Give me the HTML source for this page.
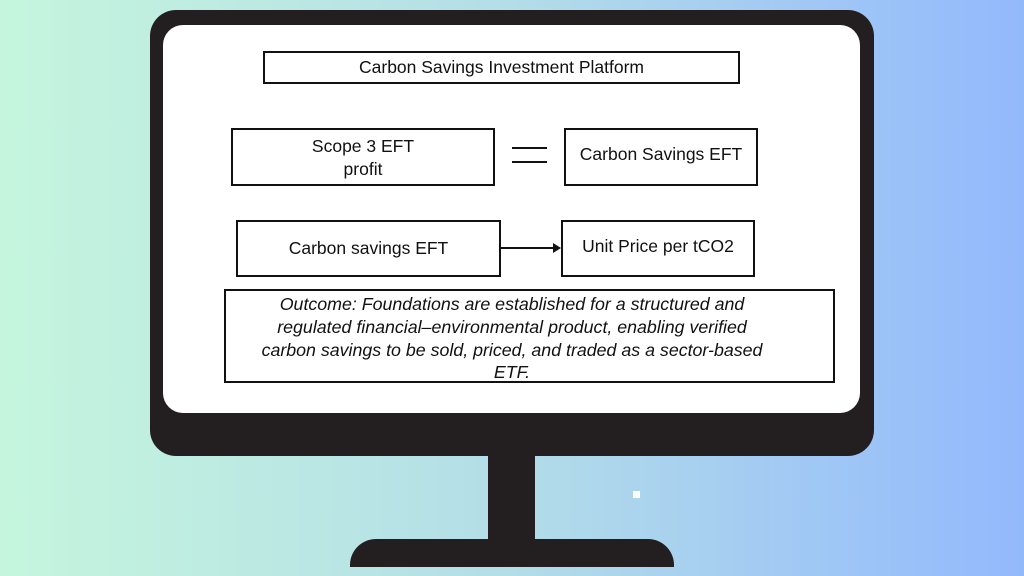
<!DOCTYPE html>
<html><head><meta charset="utf-8"><style>
*{margin:0;padding:0;box-sizing:border-box}
body{width:1024px;height:576px;overflow:hidden;position:relative;background:linear-gradient(90deg,#c5f6dd 0%,#b3dde8 50%,#93b9fd 100%);font-family:"Liberation Sans",sans-serif;color:#111}
.a{position:absolute}
.box{position:absolute;border:2px solid #111;background:#fff}
.t{position:absolute;font-size:17.5px;text-align:center;white-space:nowrap}
.o{position:absolute;left:212px;width:600px;text-align:center;font-style:italic;font-size:17.8px;white-space:nowrap}
</style></head><body>
<div class="a" style="left:150px;top:10px;width:724px;height:446px;background:#231f20;border-radius:26px"></div>
<div class="a" style="left:163px;top:25px;width:697px;height:388px;background:#fff;border-radius:20px"></div>
<div class="a" style="left:488px;top:455px;width:47px;height:86px;background:#231f20"></div>
<div class="a" style="left:350px;top:539px;width:324px;height:28px;background:#231f20;border-radius:26px 26px 0 0"></div>
<div class="a" style="left:633px;top:491px;width:7px;height:7px;background:#fff"></div>

<div class="box" style="left:263px;top:51px;width:477px;height:33px"></div>
<div class="t" style="left:263px;top:57px;width:477px">Carbon Savings Investment Platform</div>

<div class="box" style="left:231px;top:128px;width:264px;height:58px"></div>
<div class="t" style="left:231px;top:135px;width:264px;line-height:23px">Scope 3 EFT<br>profit</div>
<div class="a" style="left:512px;top:147px;width:35px;height:2px;background:#111"></div>
<div class="a" style="left:512px;top:161px;width:35px;height:2px;background:#111"></div>
<div class="box" style="left:564px;top:128px;width:194px;height:58px"></div>
<div class="t" style="left:564px;top:144px;width:194px">Carbon Savings EFT</div>

<div class="box" style="left:236px;top:220px;width:265px;height:57px"></div>
<div class="t" style="left:236px;top:238px;width:265px">Carbon savings EFT</div>
<div class="a" style="left:500px;top:247px;width:56px;height:2px;background:#111"></div>
<div class="a" style="left:553px;top:243px;width:0;height:0;border-left:8px solid #111;border-top:5px solid transparent;border-bottom:5px solid transparent"></div>
<div class="box" style="left:561px;top:220px;width:194px;height:57px"></div>
<div class="t" style="left:561px;top:236px;width:194px">Unit Price per tCO2</div>

<div class="box" style="left:224px;top:289px;width:611px;height:94px"></div>
<div class="o" style="top:294px">Outcome: Foundations are established for a structured and</div>
<div class="o" style="top:317px">regulated financial–environmental product, enabling verified</div>
<div class="o" style="top:340px">carbon savings to be sold, priced, and traded as a sector-based</div>
<div class="o" style="top:362px">ETF.</div>
</body></html>
